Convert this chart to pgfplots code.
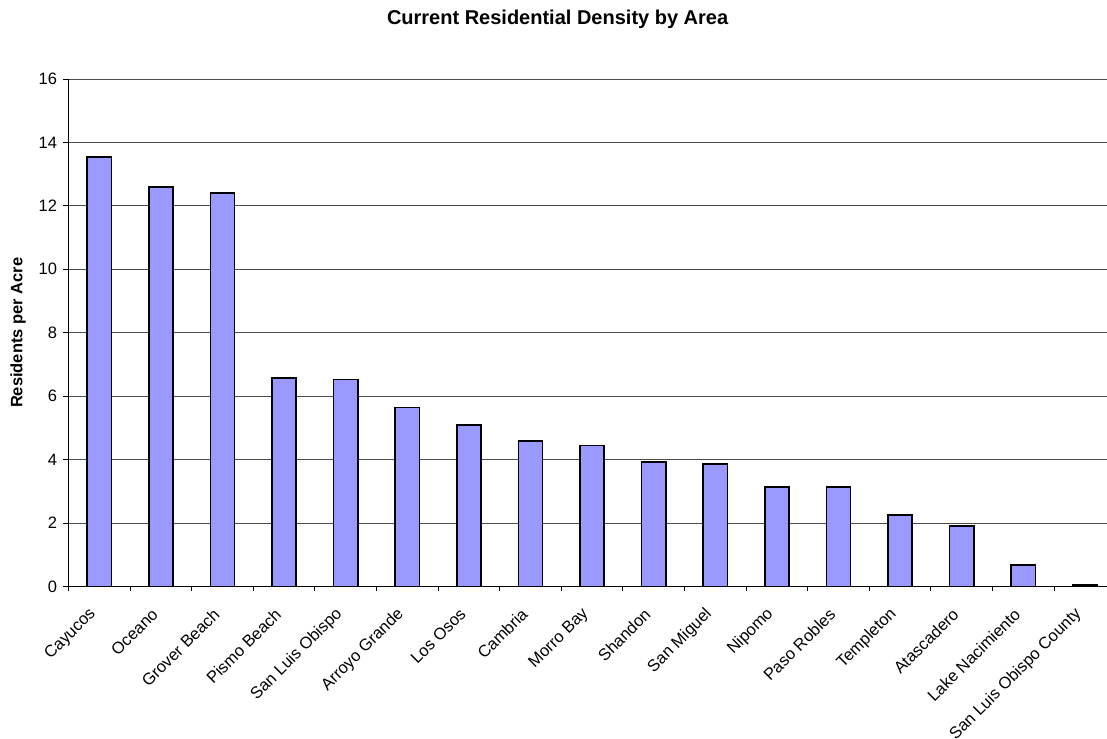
\documentclass[border=0pt]{standalone}
\usepackage{pgfplots}
\pgfplotsset{compat=1.18}
\usepackage{fontspec}
\setmainfont{Liberation Sans}
\definecolor{barfill}{HTML}{9999FF}
\begin{document}
\begin{tikzpicture}
\path[use as bounding box] (0,0) rectangle (1107pt,738pt);
\begin{axis}[
  at={(68.5pt,151.5pt)}, anchor=south west,
  scale only axis, width=1038.5pt, height=507.5pt,
  xmin=-0.5, xmax=16.36, ymin=0, ymax=16,
  ytick={0,2,...,16},
  xtick={0,...,16},
  xticklabels={Cayucos,Oceano,Grover Beach,Pismo Beach,San Luis Obispo,Arroyo Grande,Los Osos,Cambria,Morro Bay,Shandon,San Miguel,Nipomo,Paso Robles,Templeton,Atascadero,Lake Nacimiento,San Luis Obispo County},
  minor xtick={-0.5,0.5,...,15.5},
  major x tick style={draw=none},
  tick align=outside, major tick length=5pt, minor tick length=5pt,
  tick style={black, line width=0.8pt},
  axis x line*=bottom, axis y line*=left,
  axis line style={black, line width=1pt},
  ymajorgrids, grid style={black!70, line width=0.9pt},
  /pgf/number format/assume math mode=true,
  yticklabel style={font=\fontsize{16.5}{18}\selectfont, xshift=-3pt},
  xticklabel style={font=\fontsize{16.5}{18}\selectfont, inner sep=0pt, xshift=-6pt, yshift=-20pt, rotate=45, anchor=east},
  ylabel={\bfseries Residents per Acre},
  ylabel style={font=\fontsize{16.5}{18}\selectfont, at={(axis description cs:-0.0486,0.5)}, anchor=center},
  title={\bfseries Current Residential Density by Area},
  title style={font=\fontsize{20}{22}\selectfont, at={(axis description cs:0.471,1)}, anchor=base, yshift=48pt},
  ybar, bar width=24.3pt, bar shift=0pt,
]
\addplot[fill=barfill, draw=black, line width=1.6pt] coordinates {
  (0,13.55) (1,12.60) (2,12.41) (3,6.58) (4,6.53) (5,5.64) (6,5.10) (7,4.58)
  (8,4.45) (9,3.92) (10,3.87) (11,3.14) (12,3.14) (13,2.26) (14,1.91) (15,0.68) (16,0.05)
};
\end{axis}
\end{tikzpicture}
\end{document}
